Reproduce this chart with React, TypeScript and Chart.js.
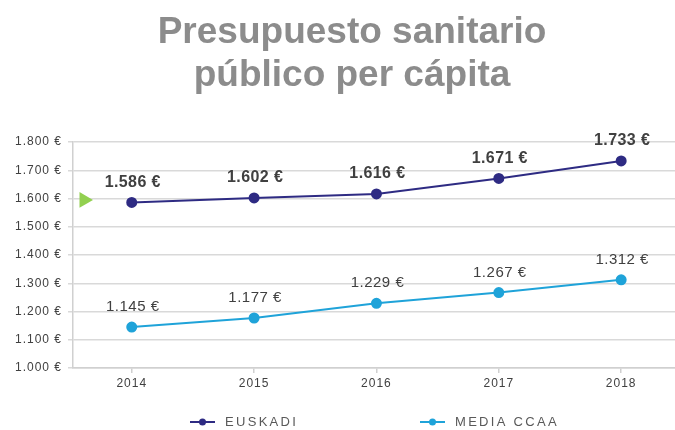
import React, { useEffect, useRef } from "react";
import { Chart, registerables } from "chart.js";

Chart.register(...registerables);

const years = ["2014", "2015", "2016", "2017", "2018"];
const euskadi = [1586, 1602, 1616, 1671, 1733];
const mediaCCAA = [1145, 1177, 1229, 1267, 1312];
const seriesNames = ["EUSKADI", "MEDIA CCAA"];
const titleLines = ["Presupuesto sanitario", "público per cápita"];
const yMin = 1000;
const yMax = 1800;
const yStep = 100;
const markerPoint = { x: 2013.61, y: 1595 };

const fmtEuro = (v: number) => {
  const n = Math.round(v);
  const th = Math.floor(n / 1000);
  const rest = String(n % 1000).padStart(3, "0");
  return (th > 0 ? th + "." + rest : String(n % 1000)) + " €";
};

const COL_EUS = "#2e2b83";
const COL_MED = "#1fa3d9";
const FONT = '"Liberation Sans", Arial, sans-serif';

export default function App() {
  const ref = useRef<HTMLCanvasElement | null>(null);

  useEffect(() => {
    const canvas = ref.current;
    if (!canvas) return;

    const decor = {
      id: "decor",
      beforeDraw(chart: any) {
        chart.ctx.letterSpacing = "1px";
      },
      afterDatasetsDraw(chart: any) {
        const ctx = chart.ctx;
        ctx.save();
        ctx.textAlign = "center";
        ctx.textBaseline = "middle";
        ctx.fillStyle = "#404040";
        [0, 1].forEach((di) => {
          const meta = chart.getDatasetMeta(di);
          const ds = chart.data.datasets[di];
          ctx.font = di === 0 ? `bold 16px ${FONT}` : `15px ${FONT}`;
          ctx.letterSpacing = di === 0 ? "0.4px" : "0.5px";
          meta.data.forEach((pt: any, i: number) => {
            ctx.fillText(fmtEuro(ds.data[i].y), pt.x + 1, pt.y - 20);
          });
        });
        ctx.restore();
      },
      afterDraw(chart: any) {
        const ctx = chart.ctx;
        ctx.save();
        // title
        ctx.letterSpacing = "0px";
        ctx.fillStyle = "#8c8c8c";
        ctx.font = `bold 37px ${FONT}`;
        ctx.textAlign = "center";
        ctx.textBaseline = "alphabetic";
        ctx.fillText(titleLines[0], 352, 43);
        ctx.fillText(titleLines[1], 352, 86);
        // legend
        const items = [
          { name: seriesNames[0], color: COL_EUS, x0: 190 },
          { name: seriesNames[1], color: COL_MED, x0: 420 },
        ];
        const ly = 422;
        items.forEach((it) => {
          ctx.strokeStyle = it.color;
          ctx.lineWidth = 2;
          ctx.beginPath();
          ctx.moveTo(it.x0, ly);
          ctx.lineTo(it.x0 + 25, ly);
          ctx.stroke();
          ctx.fillStyle = it.color;
          ctx.beginPath();
          ctx.arc(it.x0 + 12.5, ly, 3.5, 0, Math.PI * 2);
          ctx.fill();
          ctx.fillStyle = "#595959";
          ctx.font = `13px ${FONT}`;
          ctx.letterSpacing = "2.3px";
          ctx.textAlign = "left";
          ctx.textBaseline = "middle";
          ctx.fillText(it.name, it.x0 + 35, ly);
        });
        ctx.restore();
      },
    };

    const chart = new Chart(canvas, {
      type: "line",
      data: {
        datasets: [
          {
            label: seriesNames[0],
            data: years.map((y, i) => ({ x: Number(y), y: euskadi[i] })),
            borderColor: COL_EUS,
            backgroundColor: COL_EUS,
            borderWidth: 2,
            pointRadius: 4.5,
            pointHoverRadius: 4.5,
            tension: 0,
          },
          {
            label: seriesNames[1],
            data: years.map((y, i) => ({ x: Number(y), y: mediaCCAA[i] })),
            borderColor: COL_MED,
            backgroundColor: COL_MED,
            borderWidth: 2,
            pointRadius: 4.5,
            pointHoverRadius: 4.5,
            tension: 0,
          },
          {
            label: "marker",
            data: [markerPoint],
            showLine: false,
            pointStyle: "triangle",
            rotation: 90,
            pointRadius: 9,
            pointHoverRadius: 9,
            borderColor: "#92d050",
            backgroundColor: "#92d050",
            borderWidth: 0,
          } as any,
        ],
      },
      options: {
        responsive: false,
        animation: false,
        events: [],
        layout: { autoPadding: false, padding: { top: 142, left: 0, right: 0, bottom: 0 } },
        plugins: {
          legend: { display: false },
          title: { display: false },
          tooltip: { enabled: false },
        },
        scales: {
          x: {
            type: "linear",
            min: 2013.52,
            max: 2018.44,
            afterFit: (s: any) => {
              s.height = 62;
              s.paddingLeft = 0;
              s.paddingRight = 0;
            },
            border: { display: true, color: "#d0d0d0", width: 1.5 },
            grid: {
              drawOnChartArea: false,
              drawTicks: true,
              tickLength: 5,
              color: "#d0d0d0",
              lineWidth: 1.5,
            },
            ticks: {
              stepSize: 1,
              includeBounds: false,
              autoSkip: false,
              maxRotation: 0,
              padding: 3,
              color: "#404040",
              font: { family: FONT, size: 12 },
              callback: (v: any) => String(v),
            },
          } as any,
          y: {
            min: yMin,
            max: yMax,
            afterFit: (s: any) => {
              s.width = 73;
              s.paddingTop = 0;
              s.paddingBottom = 0;
            },
            border: { display: true, color: "#d0d0d0", width: 1.5 },
            grid: {
              color: "#d9d9d9",
              lineWidth: 1.5,
              tickLength: 5,
            },
            ticks: {
              stepSize: yStep,
              padding: 6,
              color: "#404040",
              font: { family: FONT, size: 12 },
              callback: (v: any) => fmtEuro(Number(v)),
            },
          },
        },
      },
      plugins: [decor],
    });

    return () => chart.destroy();
  }, []);

  return (
    <div style={{ position: "absolute", left: 0, top: 0, width: 675, height: 430 }}>
      <canvas
        ref={ref}
        width={675}
        height={430}
        style={{ width: "675px", height: "430px", display: "block" }}
      />
    </div>
  );
}
